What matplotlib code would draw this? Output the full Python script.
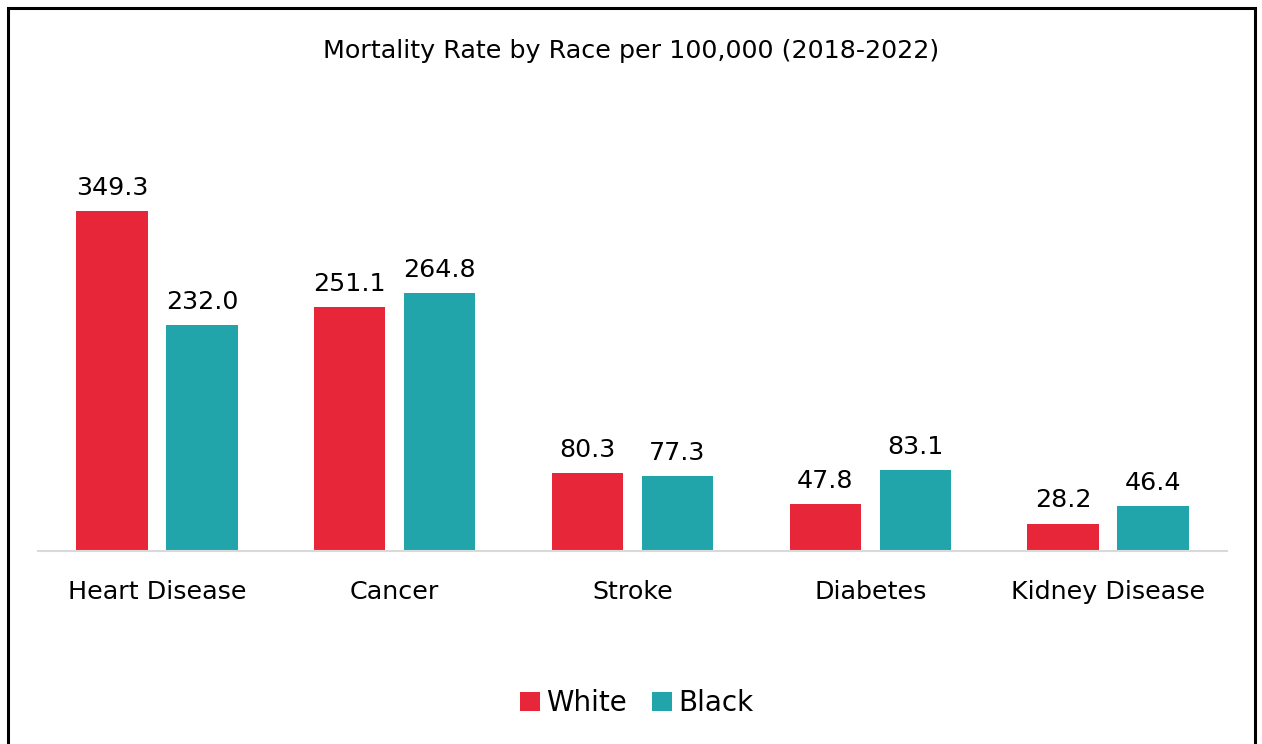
import numpy as np
import matplotlib
matplotlib.use("Agg")
import matplotlib.pyplot as plt
from matplotlib.patches import Rectangle

categories = ["Heart Disease", "Cancer", "Stroke", "Diabetes", "Kidney Disease"]
white = [349.3, 251.1, 80.3, 47.8, 28.2]
black = [232.0, 264.8, 77.3, 83.1, 46.4]

RED = "#E8263A"
TEAL = "#21A5AA"

plt.rcParams["font.family"] = ["DejaVu Sans"]

W, H = 1262, 744
fig = plt.figure(figsize=(W / 100, H / 100), dpi=100)
fig.patch.set_facecolor("white")

# outer frame, bottom edge runs off the canvas
fig.patches.append(Rectangle((8 / W, -0.05), 1247 / W, (H - 8) / H + 0.05,
                             transform=fig.transFigure, fill=False,
                             edgecolor="black", linewidth=2.2, clip_on=False))

ax = fig.add_axes([38 / W, (H - 551) / H, 1189 / W, 461 / H])
x = np.arange(len(categories))
bw = 0.30
off = 0.189
b1 = ax.bar(x - off, white, bw, color=RED, label="White")
b2 = ax.bar(x + off, black, bw, color=TEAL, label="Black")

for bars, vals in ((b1, white), (b2, black)):
    for r, v in zip(bars, vals):
        ax.annotate(f"{v:.1f}", (r.get_x() + r.get_width() / 2, v),
                    xytext=(0, 8), textcoords="offset points",
                    ha="center", va="bottom", fontsize=18.3)

ax.set_xlim(-0.5, 4.5)
ax.set_ylim(0, 473.8)
ax.set_xticks(x)
ax.set_xticklabels(categories, fontsize=18.3)
ax.tick_params(axis="x", length=0, pad=21)
ax.set_yticks([])
for s in ("top", "right", "left"):
    ax.spines[s].set_visible(False)
ax.spines["bottom"].set_color("#D9D9D9")
ax.spines["bottom"].set_linewidth(1.5)

fig.text(0.5, (H - 51) / H, "Mortality Rate by Race per 100,000 (2018-2022)",
         ha="center", va="center", fontsize=18.3)

fig.legend(handles=[b1, b2], labels=["White", "Black"], loc="center",
           bbox_to_anchor=(637 / W, (H - 703) / H), ncol=2, frameon=False,
           fontsize=20, handlelength=0.7, handleheight=0.7, handletextpad=0.25,
           columnspacing=0.9)

fig.savefig("out.png", dpi=100)
